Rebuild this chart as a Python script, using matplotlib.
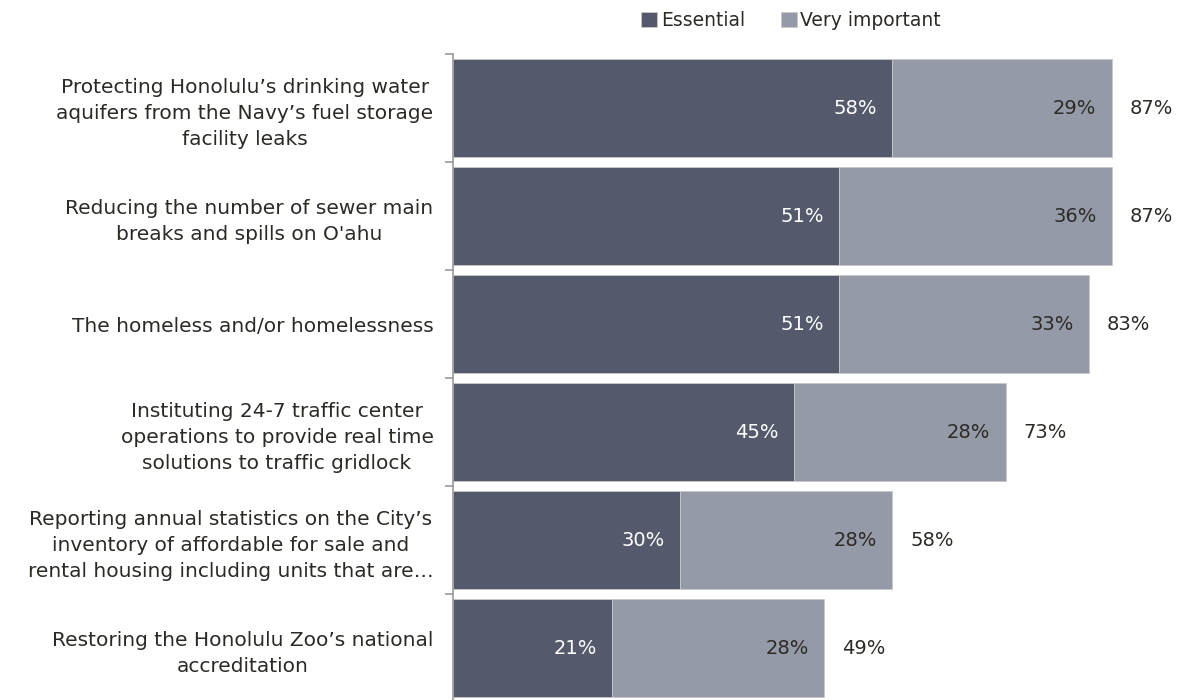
import matplotlib
matplotlib.use("Agg")
import matplotlib.pyplot as plt
import numpy as np

categories = [
    "Protecting Honolulu’s drinking water\naquifers from the Navy’s fuel storage\nfacility leaks",
    "Reducing the number of sewer main\nbreaks and spills on O'ahu",
    "The homeless and/or homelessness",
    "Instituting 24-7 traffic center\noperations to provide real time\nsolutions to traffic gridlock",
    "Reporting annual statistics on the City’s\ninventory of affordable for sale and\nrental housing including units that are…",
    "Restoring the Honolulu Zoo’s national\naccreditation",
]
essential = [58, 51, 51, 45, 30, 21]
very_important = [29, 36, 33, 28, 28, 28]
totals = [87, 87, 83, 73, 58, 49]

DARK = "#545a6b"
LIGHT = "#959aa8"
TEXT = "#2d2a26"

plt.rcParams["font.family"] = ["DejaVu Sans"]

fig = plt.figure(figsize=(11.78, 7.0), dpi=100)
ax = fig.add_axes([453 / 1178, -2 / 700, 725 / 1178, 648 / 700])

y = np.arange(len(categories))
ax.barh(y, essential, height=0.9, color=DARK, edgecolor="#c8c8c8", linewidth=0.6, label="Essential")
ax.barh(y, very_important, left=essential, height=0.9, color=LIGHT, edgecolor="#c8c8c8",
        linewidth=0.6, label="Very important")

# segment values inside the bars, total just past the end
for i in range(len(categories)):
    ax.text(essential[i] - 2, i, f"{essential[i]}%", ha="right", va="center",
            color="white", fontsize=14)
    ax.text(essential[i] + very_important[i] - 2, i, f"{very_important[i]}%", ha="right",
            va="center", color=TEXT, fontsize=14)
    ax.text(essential[i] + very_important[i] + 2.4, i, f"{totals[i]}%", ha="left",
            va="center", color=TEXT, fontsize=14)

ax.set_xlim(0, 725 / 7.57)
ax.set_ylim(len(categories) - 0.5, -0.5)
ax.set_yticks(y)
ax.set_yticklabels(categories, fontsize=14.5, color=TEXT, multialignment="center",
                   linespacing=1.45)
ax.tick_params(axis="y", which="major", length=0, pad=14)
ax.set_yticks(np.arange(len(categories)) - 0.5, minor=True)
ax.tick_params(axis="y", which="minor", length=6, color="#999999", width=1.2)
ax.set_xticks([])

for side in ["top", "right", "bottom"]:
    ax.spines[side].set_visible(False)
ax.spines["left"].set_color("#999999")
ax.spines["left"].set_linewidth(1.2)

ax.legend(loc="upper center", bbox_to_anchor=(791 / 1178, 1.008), bbox_transform=fig.transFigure,
          ncol=2, frameon=False, fontsize=13.5, handlelength=0.85, handleheight=0.85,
          handletextpad=0.2, columnspacing=1.9, labelcolor=TEXT)

fig.savefig("out.png", dpi=100)
